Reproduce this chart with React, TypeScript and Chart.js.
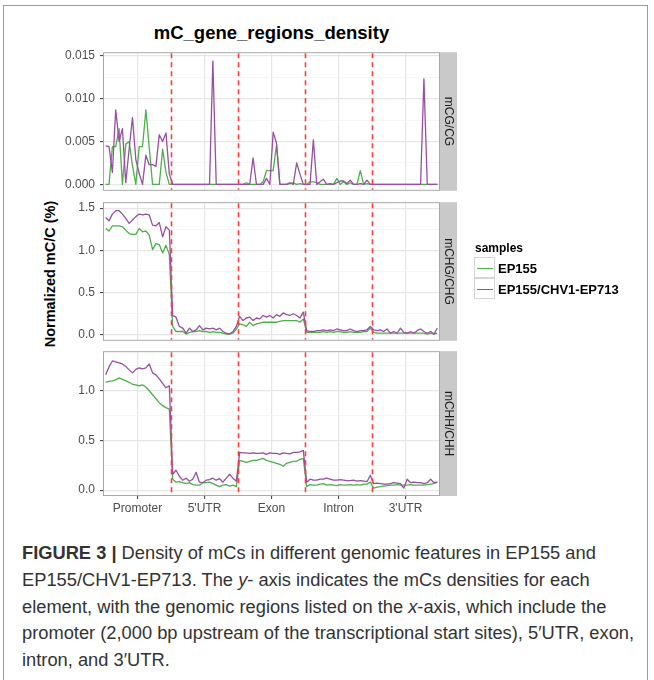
import React, { useEffect, useRef } from 'react';
import { Chart, registerables } from 'chart.js';

Chart.register(...registerables);

const FONT = '"Liberation Sans", Arial, Helvetica, sans-serif';
const GREEN = '#4DAF4A';
const PURPLE = '#984EA3';

// ---------------- data ----------------
const regions = ['Promoter', "5'UTR", 'Exon', 'Intron', "3'UTR"];
const regionCenters = [10, 30, 50, 70, 90];
const regionBoundaries = [20, 40, 60, 80];
const sampleNames = ['EP155', 'EP155/CHV1-EP713'];
const legendTitle = 'samples';

// mCG/CG
const cgEP155 = [
  0, 0, 0.0044, 0.0044, 0.0065, 0, 0.0047, 0.005, 0.0022, 0, 0.0044, 0.0044, 0.0087, 0.0043, 0, 0, 0, 0.0041, 0.0014, 0,
  0, 0, 0, 0, 0, 0, 0, 0, 0, 0, 0, 0, 0, 0, 0, 0, 0, 0, 0, 0,
  0, 0, 0.0002, 0, 0, 0, 0, 0.0003, 0.0016, 0.0016, 0.0016, 0.0046, 0, 0, 0, 0.0001, 0.0002, 0, 0.0001, 0,
  0, 0.0003, 0.0003, 0.0002, 0, 0, 0, 0, 0, 0.0007, 0, 0.0003, 0, 0.0002, 0, 0, 0.0016, 0, 0.0001, 0,
  0, 0, 0, 0, 0, 0, 0, 0, 0, 0, 0, 0, 0, 0, 0, 0, 0, 0, 0, 0,
];
const cgCHV = [
  0.0045, 0.0044, 0.0014, 0.0087, 0.005, 0.0065, 0.0002, 0.0041, 0.0078, 0.0029, 0.0013, 0, 0.0034, 0.0023, 0.0023, 0.0021, 0.0058, 0.005, 0.006, 0.0012,
  0, 0, 0, 0, 0, 0, 0, 0, 0, 0, 0, 0, 0.0144, 0, 0, 0, 0, 0, 0, 0,
  0, 0, 0, 0, 0.0031, 0, 0, 0, 0.0007, 0, 0.0061, 0.0048, 0, 0, 0, 0.0002, 0, 0.0025, 0.0012, 0,
  0, 0, 0.0052, 0, 0.0003, 0.0006, 0, 0.0001, 0, 0.0002, 0.0004, 0.0004, 0.0001, 0.0005, 0, 0, 0.0001, 0, 0.0005, 0,
  0, 0, 0, 0, 0, 0, 0, 0, 0, 0, 0, 0, 0, 0, 0, 0.0123, 0, 0, 0, 0,
];

// mCHG/CHG
const chgEP155 = [
  1.26, 1.23, 1.29, 1.29, 1.29, 1.28, 1.24, 1.2, 1.19, 1.19, 1.26, 1.22, 1.23, 1.18, 1.01, 1.08, 1.07, 0.97, 1.06, 0.95,
  0.1, 0.04, 0.04, 0.04, 0.01, 0.03, 0.04, 0.04, 0.05, 0.04, 0.04, 0.03, 0.04, 0.03, 0.03, 0.02, 0.01, 0.01, 0.02, 0.07,
  0.13, 0.12, 0.1, 0.15, 0.11, 0.13, 0.14, 0.15, 0.15, 0.15, 0.15, 0.15, 0.16, 0.17, 0.17, 0.17, 0.17, 0.17, 0.15, 0.19,
  0.03, 0.03, 0.03, 0.03, 0.03, 0.04, 0.03, 0.04, 0.03, 0.04, 0.04, 0.03, 0.03, 0.04, 0.03, 0.03, 0.03, 0.04, 0.04, 0.08,
  0.03, 0.02, 0.02, 0.02, 0.02, 0.02, 0.02, 0.02, 0.02, 0.02, 0.02, 0.02, 0.02, 0.02, 0.02, 0.02, 0.01, 0.02, 0.01, 0.02,
];
const chgCHV = [
  1.39, 1.35, 1.43, 1.47, 1.47, 1.43, 1.38, 1.32, 1.36, 1.4, 1.43, 1.42, 1.43, 1.42, 1.3, 1.29, 1.33, 1.16, 1.28, 1.24,
  0.23, 0.21, 0.1, 0.08, 0.02, 0.08, 0.04, 0.06, 0.11, 0.06, 0.08, 0.07, 0.08, 0.06, 0.08, 0.04, 0.02, 0.01, 0.04, 0.1,
  0.22, 0.17, 0.2, 0.21, 0.17, 0.2, 0.19, 0.23, 0.21, 0.23, 0.2, 0.24, 0.22, 0.26, 0.24, 0.23, 0.25, 0.23, 0.2, 0.27,
  0.05, 0.04, 0.04, 0.05, 0.05, 0.06, 0.05, 0.06, 0.05, 0.07, 0.06, 0.05, 0.05, 0.07, 0.05, 0.04, 0.05, 0.05, 0.06, 0.1,
  0.06, 0.05, 0.06, 0.04, 0.07, 0.02, 0.04, 0.02, 0.08, 0.03, 0.02, 0.04, 0.02, 0.05, 0.07, 0.04, 0.02, 0.04, 0.01, 0.08,
];

// mCHH/CHH
const chhEP155 = [
  1.085, 1.095, 1.1, 1.11, 1.13, 1.115, 1.1, 1.085, 1.065, 1.06, 1.05, 1.06, 1.035, 1.0, 0.96, 0.92, 0.88, 0.85, 0.83, 0.815,
  0.11, 0.08, 0.085, 0.075, 0.065, 0.075, 0.055, 0.05, 0.05, 0.075, 0.075, 0.08, 0.065, 0.05, 0.035, 0.05, 0.055, 0.04, 0.05, 0.035,
  0.3, 0.29, 0.28, 0.29, 0.3, 0.3, 0.31, 0.32, 0.3, 0.29, 0.28, 0.27, 0.26, 0.24, 0.27, 0.28, 0.29, 0.29, 0.31, 0.32,
  0.035, 0.055, 0.05, 0.05, 0.06, 0.065, 0.05, 0.055, 0.05, 0.045, 0.055, 0.05, 0.05, 0.055, 0.05, 0.055, 0.05, 0.06, 0.06, 0.08,
  0.02, 0.03, 0.035, 0.04, 0.045, 0.05, 0.05, 0.055, 0.05, 0.05, 0.05, 0.055, 0.05, 0.05, 0.05, 0.05, 0.055, 0.06, 0.065, 0.08,
];
const chhCHV = [
  1.16, 1.24, 1.3, 1.29, 1.28, 1.27, 1.245, 1.21, 1.18, 1.215, 1.23, 1.22, 1.23, 1.27, 1.18, 1.16, 1.12, 1.075, 1.03, 1.05,
  0.16, 0.2, 0.14, 0.1, 0.12, 0.09, 0.11, 0.18, 0.08, 0.075, 0.1, 0.105, 0.12, 0.1, 0.115, 0.08, 0.12, 0.16, 0.12, 0.09,
  0.38, 0.375, 0.375, 0.37, 0.375, 0.37, 0.37, 0.375, 0.36, 0.375, 0.37, 0.37, 0.36, 0.375, 0.37, 0.365, 0.38, 0.38, 0.385, 0.4,
  0.08, 0.11, 0.1, 0.1, 0.11, 0.11, 0.12, 0.11, 0.1, 0.1, 0.105, 0.1, 0.095, 0.095, 0.1, 0.09, 0.095, 0.09, 0.085, 0.15,
  0.065, 0.07, 0.065, 0.06, 0.06, 0.065, 0.075, 0.07, 0.065, 0.02, 0.11, 0.075, 0.08, 0.075, 0.075, 0.065, 0.075, 0.11, 0.075, 0.08,
];

const cgMajorTicks = [0, 0.005, 0.01, 0.015];
const cgMinorTicks = [0.0025, 0.0075, 0.0125];
const chgMajorTicks = [0, 0.5, 1.0, 1.5];
const chgMinorTicks = [0.25, 0.75, 1.25];
const chhMajorTicks = [0, 0.5, 1.0];
const chhMinorTicks = [0.25, 0.75, 1.25];

// ---------------- layout ----------------
type PanelSpec = {
  strip: string;
  ep155: number[];
  chv: number[];
  majors: number[];
  minors: number[];
  digits: number;
  yMin: number;
  yMax: number;
  top: number;
  height: number;
  showX: boolean;
};

const PANELS: PanelSpec[] = [
  { strip: 'mCG/CG', ep155: cgEP155, chv: cgCHV, majors: cgMajorTicks, minors: cgMinorTicks, digits: 3, yMin: -0.000626, yMax: 0.0153, top: 49, height: 145, showX: false },
  { strip: 'mCHG/CHG', ep155: chgEP155, chv: chgCHV, majors: chgMajorTicks, minors: chgMinorTicks, digits: 1, yMin: -0.058, yMax: 1.559, top: 199, height: 145, showX: false },
  { strip: 'mCHH/CHH', ep155: chhEP155, chv: chhCHV, majors: chhMajorTicks, minors: chhMinorTicks, digits: 1, yMin: -0.049, yMax: 1.388, top: 348, height: 147, showX: true },
];

const CANVAS_LEFT = 30;
const CANVAS_W = 430;
const Y_AXIS_W = 74;
const PAD_RIGHT = 21;
const PAD_TOP = 8;
const PAD_BOTTOM = 8;
const X_AXIS_H = 22;

const near = (arr: number[], v: any) => typeof v === 'number' && arr.some((a) => Math.abs(a - v) < 1e-9);

function buildConfig(spec: PanelSpec): any {
  const xTicks = [...regionCenters, ...regionBoundaries].sort((a, b) => a - b);
  const yTicks = [...spec.majors, ...spec.minors].sort((a, b) => a - b);
  const toPts = (arr: number[]) => arr.map((v, i) => ({ x: i + 0.5, y: v }));

  const decor = {
    id: 'panelDecor',
    afterDatasetsDraw(chart: any) {
      const { ctx, chartArea } = chart;
      const xs = chart.scales.x;
      ctx.save();
      ctx.strokeStyle = '#ff3b3b';
      ctx.lineWidth = 1.6;
      ctx.setLineDash([5, 4]);
      regionBoundaries.forEach((b) => {
        const px = Math.round(xs.getPixelForValue(b)) + 0.5;
        ctx.beginPath();
        ctx.moveTo(px, chartArea.top);
        ctx.lineTo(px, chartArea.bottom);
        ctx.stroke();
      });
      ctx.restore();
    },
    afterDraw(chart: any) {
      const { ctx, chartArea } = chart;
      const { left, right, top, bottom } = chartArea;
      ctx.save();
      ctx.strokeStyle = '#a8a8a8';
      ctx.lineWidth = 1;
      ctx.strokeRect(left - 0.5, top - 0.5, right - left + 1, bottom - top + 1);
      // strip
      ctx.fillStyle = '#c9c9c9';
      ctx.fillRect(right + 1, top - 1, 17, bottom - top + 2);
      ctx.fillStyle = '#1a1a1a';
      ctx.font = '12px ' + FONT;
      ctx.textAlign = 'center';
      ctx.textBaseline = 'middle';
      ctx.translate(right + 9.5, (top + bottom) / 2);
      ctx.rotate(Math.PI / 2);
      ctx.fillText(spec.strip, 0, 0);
      ctx.restore();
    },
  };

  return {
    type: 'line',
    data: {
      datasets: [
        {
          label: sampleNames[1],
          data: toPts(spec.chv),
          borderColor: PURPLE,
          backgroundColor: PURPLE,
          borderWidth: 1.3,
          pointRadius: 0,
          tension: 0,
          borderJoinStyle: 'round',
          order: 0,
        },
        {
          label: sampleNames[0],
          data: toPts(spec.ep155),
          borderColor: GREEN,
          backgroundColor: GREEN,
          borderWidth: 1.3,
          pointRadius: 0,
          tension: 0,
          borderJoinStyle: 'round',
          order: 1,
        },
      ],
    },
    options: {
      animation: false,
      responsive: false,
      events: [],
      layout: {
        padding: { left: 0, right: PAD_RIGHT, top: PAD_TOP, bottom: spec.showX ? 2 : PAD_BOTTOM },
      },
      plugins: { legend: { display: false }, tooltip: { enabled: false }, title: { display: false } },
      scales: {
        x: {
          type: 'linear',
          min: 0,
          max: 100,
          afterBuildTicks: (s: any) => {
            s.ticks = xTicks.map((v) => ({ value: v }));
          },
          afterFit: (s: any) => {
            s.height = spec.showX ? X_AXIS_H : 0;
          },
          border: { display: false },
          grid: {
            display: true,
            color: (c: any) => (near(regionCenters, c.tick?.value) ? '#e6e6e6' : '#f2f2f2'),
            lineWidth: (c: any) => (near(regionCenters, c.tick?.value) ? 1.2 : 0.8),
            drawTicks: spec.showX,
            tickLength: 4,
            tickWidth: 1,
            tickColor: (c: any) => (near(regionCenters, c.tick?.value) ? '#333333' : 'rgba(0,0,0,0)'),
          },
          ticks: {
            display: spec.showX,
            autoSkip: false,
            maxRotation: 0,
            minRotation: 0,
            padding: 2,
            color: '#4d4d4d',
            font: { family: FONT, size: 12 },
            callback: (v: any) => {
              const idx = regionCenters.indexOf(Number(v));
              return idx >= 0 ? regions[idx] : '';
            },
          },
        },
        y: {
          type: 'linear',
          min: spec.yMin,
          max: spec.yMax,
          afterBuildTicks: (s: any) => {
            s.ticks = yTicks.map((v) => ({ value: v }));
          },
          afterFit: (s: any) => {
            s.width = Y_AXIS_W;
          },
          border: { display: false },
          grid: {
            color: (c: any) => (near(spec.majors, c.tick?.value) ? '#e6e6e6' : '#f2f2f2'),
            lineWidth: (c: any) => (near(spec.majors, c.tick?.value) ? 1.2 : 0.8),
            drawTicks: true,
            tickLength: 4,
            tickWidth: 1,
            tickColor: (c: any) => (near(spec.majors, c.tick?.value) ? '#333333' : 'rgba(0,0,0,0)'),
          },
          ticks: {
            autoSkip: false,
            padding: 5,
            color: '#4d4d4d',
            font: { family: FONT, size: 12 },
            callback: (v: any) => (near(spec.majors, Number(v)) ? Number(v).toFixed(spec.digits) : ''),
          },
        },
      },
    },
    plugins: [decor],
  };
}

function Panel({ spec }: { spec: PanelSpec }) {
  const ref = useRef<HTMLCanvasElement>(null);
  const h = spec.height + PAD_TOP + (spec.showX ? X_AXIS_H + 2 : PAD_BOTTOM);
  useEffect(() => {
    const canvas = ref.current;
    if (!canvas) return;
    const chart = new Chart(canvas, buildConfig(spec));
    return () => chart.destroy();
  }, [spec]);
  return (
    <canvas
      ref={ref}
      width={CANVAS_W}
      height={h}
      style={{ position: 'absolute', left: CANVAS_LEFT, top: spec.top - PAD_TOP, width: CANVAS_W, height: h }}
    />
  );
}

export default function App() {
  const abs = (s: React.CSSProperties): React.CSSProperties => ({ position: 'absolute', ...s });
  return (
    <div
      style={{
        position: 'absolute',
        left: 0,
        top: 0,
        width: 654,
        height: 680,
        overflow: 'hidden',
        background: '#ffffff',
        fontFamily: FONT,
      }}
    >
      {/* figure frame */}
      <div style={abs({ left: 3, top: 5, width: 645, height: 720, border: '1px solid #9a9a9a', boxSizing: 'border-box' })} />

      {/* title */}
      <div
        style={abs({
          left: 104,
          width: 335,
          top: 22,
          textAlign: 'center',
          fontWeight: 'bold',
          fontSize: 18.5,
          lineHeight: '21px',
          color: '#000',
          whiteSpace: 'nowrap',
        })}
      >
        mC_gene_regions_density
      </div>

      {/* y axis title */}
      <div
        style={abs({
          left: 50,
          top: 274,
          transform: 'translate(-50%, -50%) rotate(-90deg)',
          fontWeight: 'bold',
          fontSize: 14.5,
          lineHeight: '16px',
          color: '#000',
          whiteSpace: 'nowrap',
        })}
      >
        Normalized mC/C (%)
      </div>

      {PANELS.map((p) => (
        <Panel key={p.strip} spec={p} />
      ))}

      {/* legend */}
      <div style={abs({ left: 475, top: 241, fontWeight: 'bold', fontSize: 12, lineHeight: '14px', color: '#000' })}>
        {legendTitle}
      </div>
      {[GREEN, PURPLE].map((c, i) => (
        <React.Fragment key={i}>
          <div
            style={abs({
              left: 474,
              top: 257 + i * 21,
              width: 21,
              height: 21,
              border: '1px solid #d4d4d4',
              boxSizing: 'border-box',
              background: '#fff',
            })}
          />
          <div style={abs({ left: 477, top: 268 + i * 21, width: 16, height: 1.4, background: c })} />
          <div
            style={abs({
              left: 498,
              top: 261 + i * 21,
              fontWeight: 'bold',
              fontSize: 13,
              lineHeight: '15px',
              color: '#000',
              whiteSpace: 'nowrap',
            })}
          >
            {sampleNames[i]}
          </div>
        </React.Fragment>
      ))}

      {/* caption */}
      <div
        style={abs({
          left: 22,
          top: 540,
          fontSize: 18.3,
          lineHeight: '26.8px',
          color: '#333',
          whiteSpace: 'nowrap',
        })}
      >
        <b>FIGURE 3 |</b> Density of mCs in different genomic features in EP155 and
        <br />
        EP155/CHV1-EP713. The <i>y</i>- axis indicates the mCs densities for each
        <br />
        element, with the genomic regions listed on the <i>x</i>-axis, which include the
        <br />
        promoter (2,000 bp upstream of the transcriptional start sites), 5′UTR, exon,
        <br />
        intron, and 3′UTR.
      </div>
    </div>
  );
}
